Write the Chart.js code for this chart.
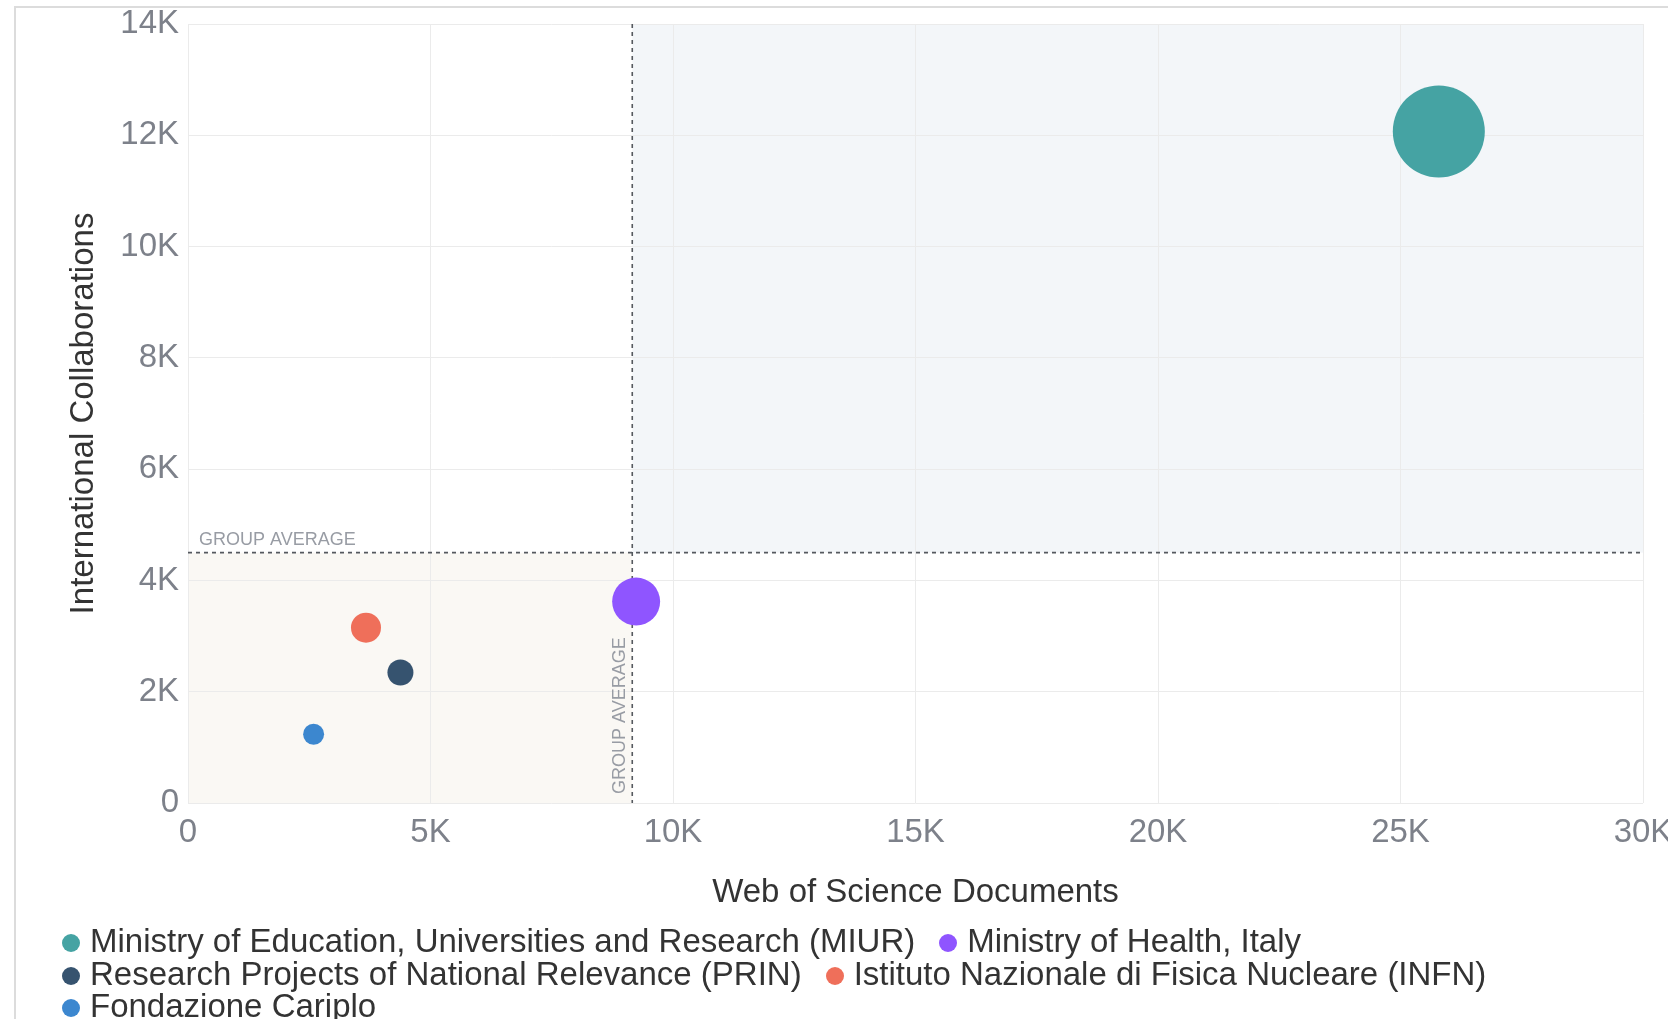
<!DOCTYPE html>
<html>
<head>
<meta charset="utf-8">
<title>International Collaborations vs Web of Science Documents</title>
<script src="https://cdn.jsdelivr.net/npm/chart.js@4.4.0/dist/chart.umd.min.js"></script>
<style>
  html, body { margin: 0; padding: 0; width: 1668px; height: 1019px; overflow: hidden; background: #fff; font-family: 'Liberation Sans', Arial, sans-serif; }
  .card { position: absolute; left: 14px; top: 6px; width: 1700px; height: 1100px; border-left: 2px solid #dcdcdc; border-top: 2px solid #dcdcdc; }
  #chart { position: absolute; left: 0; top: -22px; }
  #legend { position: absolute; left: 62px; top: 925px; width: 1580px; display: flex; flex-wrap: wrap; column-gap: 24px; font-size: 33px; line-height: 32.5px; color: #333; }
  .item { white-space: nowrap; }
  .dot { display: inline-block; width: 18px; height: 18px; border-radius: 50%; margin-right: 10px; vertical-align: middle; }
</style>
</head>
<body>
<div class="card"></div>
<canvas id="chart" width="1689" height="945"></canvas>
<div id="legend"></div>
<script>
// funders, in legend order
const funders = [
    'Ministry of Education, Universities and Research (MIUR)',
    'Ministry of Health, Italy',
    'Research Projects of National Relevance (PRIN)',
    'Istituto Nazionale di Fisica Nucleare (INFN)',
    'Fondazione Cariplo'
];
const wosDocuments = [25790, 9240, 4380, 3670, 2590];
const intlCollaborations = [12070, 3620, 2345, 3150, 1236];
const bubbleSize = [46, 24, 13, 15, 10.5];
const groupAvgDocuments = 9160;
const groupAvgCollaborations = 4500;
const xTickValues = [0, 5000, 10000, 15000, 20000, 25000, 30000];
const yTickValues = [0, 2000, 4000, 6000, 8000, 10000, 12000, 14000];

const colors = ['#45a3a3', '#8f55ff', '#36536f', '#ef6f5a', '#3c87cf'];

Chart.defaults.font.family = "'Liberation Sans', Arial, sans-serif";

const kLabel = v => v === 0 ? '0' : (v / 1000) + 'K';

const groupAverage = {
    id: 'groupAverage',
    beforeDraw(chart) {
        const {ctx, chartArea: a, scales: {x, y}} = chart;
        const ax = x.getPixelForValue(groupAvgDocuments);
        const ay = y.getPixelForValue(groupAvgCollaborations);
        ctx.save();
        ctx.fillStyle = '#f3f6f9';
        ctx.fillRect(ax, a.top, a.right - ax, ay - a.top);
        ctx.fillStyle = '#faf8f4';
        ctx.fillRect(a.left, ay, ax - a.left, a.bottom - ay);
        ctx.restore();
    },
    beforeDatasetsDraw(chart) {
        const {ctx, chartArea: a, scales: {x, y}} = chart;
        const ax = x.getPixelForValue(groupAvgDocuments);
        const ay = y.getPixelForValue(groupAvgCollaborations);
        ctx.save();
        ctx.strokeStyle = '#55595f';
        ctx.lineWidth = 1.6;
        ctx.setLineDash([4, 4]);
        ctx.beginPath();
        ctx.moveTo(a.left, ay);
        ctx.lineTo(a.right, ay);
        ctx.moveTo(ax, a.top);
        ctx.lineTo(ax, a.bottom);
        ctx.stroke();

        ctx.setLineDash([]);
        ctx.fillStyle = '#989ca4';
        ctx.font = "18px 'Liberation Sans', Arial, sans-serif";
        ctx.textAlign = 'left';
        ctx.textBaseline = 'alphabetic';
        ctx.fillText('GROUP AVERAGE', a.left + 11, ay - 8);
        ctx.translate(ax - 7, a.bottom - 9);
        ctx.rotate(-Math.PI / 2);
        ctx.fillText('GROUP AVERAGE', 0, 0);
        ctx.restore();
    }
};

new Chart(document.getElementById('chart'), {
    type: 'bubble',
    data: {
        datasets: funders.map((name, i) => ({
            label: name,
            data: [{x: wosDocuments[i], y: intlCollaborations[i], r: bubbleSize[i]}],
            backgroundColor: colors[i],
            borderWidth: 0,
            hoverBorderWidth: 0
        }))
    },
    options: {
        responsive: false,
        animation: false,
        devicePixelRatio: 1,
        layout: {padding: 0},
        plugins: {legend: {display: false}, tooltip: {enabled: false}},
        scales: {
            x: {
                type: 'linear', min: 0, max: 30000,
                afterBuildTicks: s => { s.ticks = xTickValues.map(v => ({value: v})); },
                afterFit: s => { s.height = 120; },
                ticks: {callback: kLabel, color: '#7d818a', font: {size: 33}, padding: 10, maxRotation: 0},
                grid: {color: '#ebebeb', drawTicks: false},
                border: {display: false},
                title: {display: true, text: 'Web of Science Documents', color: '#333', font: {size: 33}, padding: {top: 0, bottom: 10}}
            },
            y: {
                type: 'linear', min: 0, max: 14000,
                afterBuildTicks: s => { s.ticks = yTickValues.map(v => ({value: v})); },
                afterFit: s => { s.width = 188; },
                ticks: {callback: kLabel, color: '#7d818a', font: {size: 33}, padding: 9},
                grid: {color: '#ebebeb', drawTicks: false},
                border: {display: false},
                title: {display: true, text: 'International Collaborations', color: '#333', font: {size: 33}, padding: {top: 64, bottom: 0}}
            }
        }
    },
    plugins: [groupAverage]
});

const legend = document.getElementById('legend');
funders.forEach((name, i) => {
    const item = document.createElement('span');
    item.className = 'item';
    const dot = document.createElement('span');
    dot.className = 'dot';
    dot.style.background = colors[i];
    item.appendChild(dot);
    item.appendChild(document.createTextNode(name));
    legend.appendChild(item);
});
</script>
</body>
</html>
